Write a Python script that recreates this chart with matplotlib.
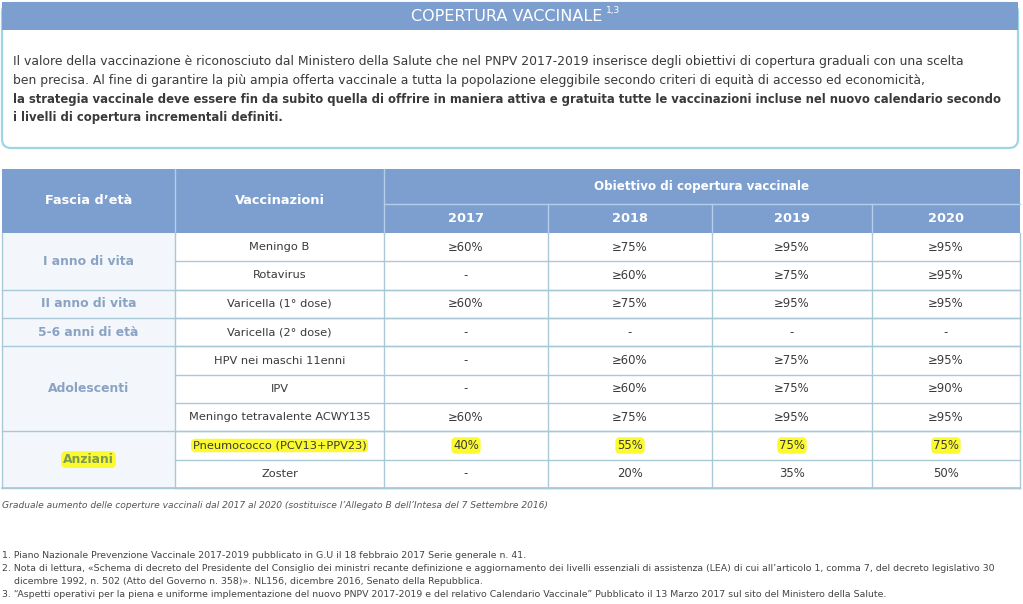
import matplotlib.pyplot as plt
from matplotlib.patches import Rectangle, FancyBboxPatch

plt.rcParams['font.family'] = ['DejaVu Sans']

# --- data ---
title = 'COPERTURA VACCINALE'
title_sup = '1,3'
intro_lines = [
    'Il valore della vaccinazione è riconosciuto dal Ministero della Salute che nel PNPV 2017-2019 inserisce degli obiettivi di copertura graduali con una scelta',
    'ben precisa. Al fine di garantire la più ampia offerta vaccinale a tutta la popolazione eleggibile secondo criteri di equità di accesso ed economicità,',
    'la strategia vaccinale deve essere fin da subito quella di offrire in maniera attiva e gratuita tutte le vaccinazioni incluse nel nuovo calendario secondo',
    'i livelli di copertura incrementali definiti.',
]
intro_bold = [False, False, True, True]

col_headers = ['Fascia d\u2019età', 'Vaccinazioni']
group_header = 'Obiettivo di copertura vaccinale'
years = ['2017', '2018', '2019', '2020']

age_groups = ['I anno di vita', 'II anno di vita', '5-6 anni di età', 'Adolescenti', 'Anziani']
age_spans = [2, 1, 1, 3, 2]
vaccines = ['Meningo B', 'Rotavirus', 'Varicella (1° dose)', 'Varicella (2° dose)',
            'HPV nei maschi 11enni', 'IPV', 'Meningo tetravalente ACWY135',
            'Pneumococco (PCV13+PPV23)', 'Zoster']
cov_2017 = ['≥60%', '-', '≥60%', '-', '-', '-', '≥60%', '40%', '-']
cov_2018 = ['≥75%', '≥60%', '≥75%', '-', '≥60%', '≥60%', '≥75%', '55%', '20%']
cov_2019 = ['≥95%', '≥75%', '≥95%', '-', '≥75%', '≥75%', '≥95%', '75%', '35%']
cov_2020 = ['≥95%', '≥95%', '≥95%', '-', '≥95%', '≥90%', '≥95%', '75%', '50%']
highlight_row = 7
highlight_group = 'Anziani'

caption = ('Graduale aumento delle coperture vaccinali dal 2017 al 2020 '
           '(sostituisce l\u2019Allegato B dell\u2019Intesa del 7 Settembre 2016)')
footnotes = [
    '1. Piano Nazionale Prevenzione Vaccinale 2017-2019 pubblicato in G.U il 18 febbraio 2017 Serie generale n. 41.',
    '2. Nota di lettura, «Schema di decreto del Presidente del Consiglio dei ministri recante definizione e aggiornamento dei livelli essenziali di assistenza (LEA) di cui all\u2019articolo 1, comma 7, del decreto legislativo 30',
    '    dicembre 1992, n. 502 (Atto del Governo n. 358)». NL156, dicembre 2016, Senato della Repubblica.',
    '3. \u201cAspetti operativi per la piena e uniforme implementazione del nuovo PNPV 2017-2019 e del relativo Calendario Vaccinale\u201d Pubblicato il 13 Marzo 2017 sul sito del Ministero della Salute.',
]

# --- style ---
blue = '#7d9fcf'
blue_line = '#b4cde8'
grid = '#a9c9d8'
box_edge = '#9fd6e4'
age_bg = '#f3f6fa'
age_txt = '#8aa3c4'
txt = '#3a3a3a'
yellow = '#fafa2e'

W, H = 1023, 604
fig = plt.figure(figsize=(W / 100, H / 100), dpi=100)
ax = fig.add_axes([0, 0, 1, 1])
ax.set_xlim(0, W)
ax.set_ylim(H, 0)
ax.axis('off')

# intro box
ax.add_patch(FancyBboxPatch((2, 3), 1016, 145, boxstyle='round,pad=0,rounding_size=9',
                            fc='white', ec=box_edge, lw=1.6))
ax.add_patch(Rectangle((2, 2), 1016, 28, fc=blue, ec='none'))
ax.text(507, 16.5, title, color='white', fontsize=11.5, ha='center', va='center')
ax.text(606, 11, title_sup, color='white', fontsize=6.5, ha='left', va='center')
for i, (line, b) in enumerate(zip(intro_lines, intro_bold)):
    ax.text(13, 62 + i * 18.5, line, color=txt, fontsize=8.35 if b else 8.9,
            ha='left', va='center', fontweight='bold' if b else 'normal')

# table geometry
col_x = [2, 175, 384, 548, 712, 872, 1020]
top, mid, head_bot, bot = 169, 204, 233, 488
n = len(vaccines)
row_h = (bot - head_bot) / n
row_y = [head_bot + i * row_h for i in range(n + 1)]

# header
ax.add_patch(Rectangle((col_x[0], top), col_x[-1] - col_x[0], head_bot - top, fc=blue, ec='none'))
for x in col_x[1:3]:
    ax.plot([x, x], [top, head_bot], color=blue_line, lw=1)
for x in col_x[3:-1]:
    ax.plot([x, x], [mid, head_bot], color=blue_line, lw=1)
ax.plot([col_x[2], col_x[-1]], [mid, mid], color=blue_line, lw=1)
hdr = dict(color='white', fontsize=9.3, fontweight='bold', ha='center', va='center')
ax.text((col_x[0] + col_x[1]) / 2, (top + head_bot) / 2, col_headers[0], **hdr)
ax.text((col_x[1] + col_x[2]) / 2, (top + head_bot) / 2, col_headers[1], **hdr)
ax.text((col_x[2] + col_x[-1]) / 2, (top + mid) / 2, group_header, **{**hdr, 'fontsize': 8.6})
for j, yr in enumerate(years):
    ax.text((col_x[3 + j] + col_x[2 + j]) / 2, (mid + head_bot) / 2, yr, **hdr)

# age group column
start = 0
for grp, span in zip(age_groups, age_spans):
    y0, y1 = row_y[start], row_y[start + span]
    ax.add_patch(Rectangle((col_x[0], y0), col_x[1] - col_x[0], y1 - y0, fc=age_bg, ec='none'))
    if grp == highlight_group:
        ax.text((col_x[0] + col_x[1]) / 2, (y0 + y1) / 2, grp, color='#7c9a50', fontsize=8.9,
                fontweight='bold', ha='center', va='center',
                bbox=dict(boxstyle='round,pad=0.15,rounding_size=0.4', fc=yellow, ec='none'))
    else:
        ax.text((col_x[0] + col_x[1]) / 2, (y0 + y1) / 2, grp, color=age_txt, fontsize=8.9,
                fontweight='bold', ha='center', va='center')
    ax.plot([col_x[0], col_x[-1]], [y1, y1], color=grid, lw=1)
    start += span

# body rows
cols = [cov_2017, cov_2018, cov_2019, cov_2020]
for i, vac in enumerate(vaccines):
    yc = (row_y[i] + row_y[i + 1]) / 2
    ax.plot([col_x[1], col_x[-1]], [row_y[i + 1], row_y[i + 1]], color=grid, lw=1)
    hb = dict(boxstyle='round,pad=0.15,rounding_size=0.4', fc=yellow, ec='none') if i == highlight_row else None
    ax.text((col_x[1] + col_x[2]) / 2, yc, vac, color=txt, fontsize=8.2,
            ha='center', va='center', bbox=hb)
    for j, c in enumerate(cols):
        ax.text((col_x[2 + j] + col_x[3 + j]) / 2, yc, c[i], color=txt, fontsize=8.4,
                ha='center', va='center', bbox=hb)

for x in col_x:
    ax.plot([x, x], [head_bot, bot], color=grid, lw=1)
ax.plot([col_x[0], col_x[-1]], [bot, bot], color=grid, lw=1.2)

# caption and notes
ax.text(2, 506, caption, color='#555555', fontsize=6.6, style='italic', ha='left', va='center')
for i, fn in enumerate(footnotes):
    ax.text(2, 555 + i * 13.3, fn, color='#444444', fontsize=6.75, ha='left', va='center')

fig.savefig('out.png', dpi=100, facecolor='white')
